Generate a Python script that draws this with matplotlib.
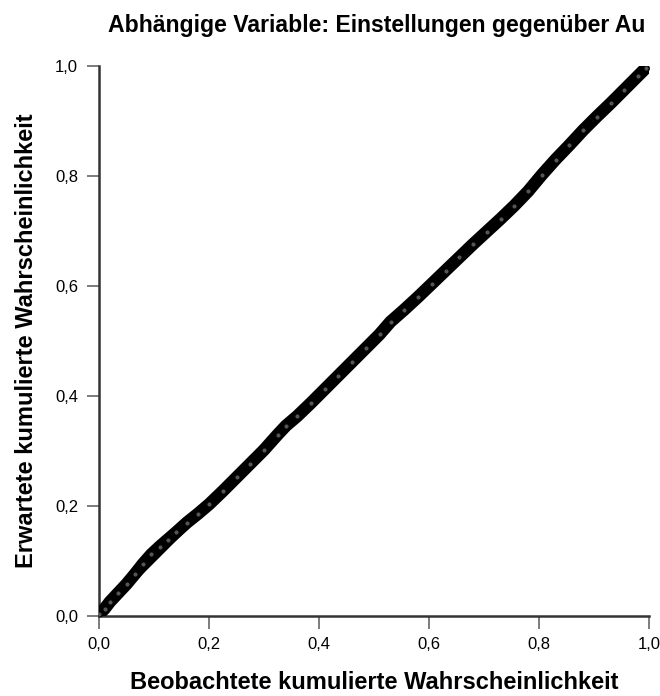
import matplotlib.pyplot as plt
from matplotlib.ticker import FuncFormatter

plt.rcParams['font.family'] = ['Liberation Sans', 'DejaVu Sans']

# P-P Diagramm: beobachtete vs. erwartete kumulierte Wahrscheinlichkeit
observed = [0.000, 0.010, 0.020, 0.035, 0.050, 0.065, 0.080, 0.095, 0.110, 0.125,
            0.140, 0.160, 0.180, 0.200, 0.225, 0.250, 0.275, 0.300, 0.325, 0.340,
            0.360, 0.385, 0.410, 0.435, 0.460, 0.485, 0.510, 0.530, 0.555, 0.580,
            0.605, 0.630, 0.655, 0.680, 0.705, 0.730, 0.755, 0.780, 0.805, 0.830,
            0.855, 0.880, 0.905, 0.930, 0.955, 0.980, 0.995]
expected = [0.003, 0.013, 0.026, 0.042, 0.058, 0.076, 0.095, 0.112, 0.126, 0.139,
            0.152, 0.170, 0.186, 0.203, 0.227, 0.252, 0.277, 0.302, 0.330, 0.346,
            0.363, 0.387, 0.412, 0.437, 0.462, 0.487, 0.512, 0.535, 0.557, 0.580,
            0.604, 0.628, 0.652, 0.676, 0.699, 0.722, 0.746, 0.772, 0.802, 0.830,
            0.856, 0.883, 0.908, 0.932, 0.957, 0.982, 0.997]
ticks = [0.0, 0.2, 0.4, 0.6, 0.8, 1.0]

# Titel ist im Original am rechten Rand abgeschnitten
title = "Abhängige Variable: Einstellungen gegenüber Au"
xlabel = "Beobachtete kumulierte Wahrscheinlichkeit"
ylabel = "Erwartete kumulierte Wahrscheinlichkeit"

fig = plt.figure(figsize=(6.6, 6.96), dpi=100)
ax = fig.add_axes([99 / 660, 1 - 616 / 696, 550 / 660, 550 / 696])

# Referenzdiagonale
ax.plot([0, 1], [0, 1], color='black', lw=2, zorder=2)
# Punkte als dichtes Band
ax.plot(observed, expected, color='black', lw=9, solid_capstyle='round', zorder=3)
ax.plot(observed, expected, linestyle='none', marker='o', ms=4,
        markerfacecolor='#555555', markeredgecolor='black', mew=1.0, zorder=4)

ax.set_xlim(0, 1)
ax.set_ylim(0, 1)
ax.set_xticks(ticks)
ax.set_yticks(ticks)
fmt = FuncFormatter(lambda v, p: f"{v:.1f}".replace('.', ','))
ax.xaxis.set_major_formatter(fmt)
ax.yaxis.set_major_formatter(fmt)

for s in ['top', 'right']:
    ax.spines[s].set_visible(False)
for s in ['left', 'bottom']:
    ax.spines[s].set_linewidth(1.8)
    ax.spines[s].set_color('#333333')
ax.tick_params(direction='out', length=9, width=1.2, color='#666666',
               labelsize=12)
ax.tick_params(axis='x', pad=6)
ax.tick_params(axis='y', pad=6)

ax.set_xlabel(xlabel, fontsize=17, fontweight='bold', labelpad=14)
ax.set_ylabel(ylabel, fontsize=17, fontweight='bold', labelpad=12)
fig.text(108 / 660, 1 - 32 / 696, title, fontsize=16.6, fontweight='bold',
         ha='left', va='baseline')

fig.savefig('out.png', dpi=100)
